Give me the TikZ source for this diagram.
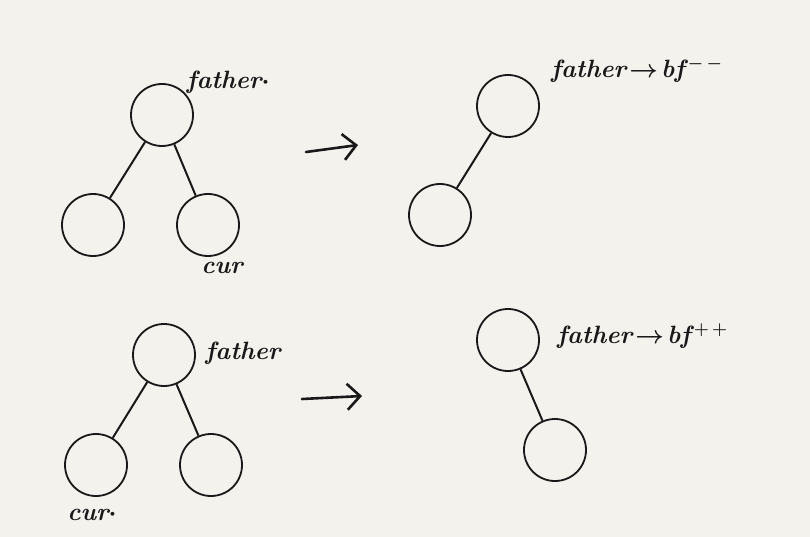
\documentclass[tikz,border=0pt]{standalone}
\usetikzlibrary{arrows.meta}
\definecolor{paper}{RGB}{243,242,237}
\definecolor{ink}{RGB}{25,25,25}
\begin{document}
\begin{tikzpicture}[x=1pt,y=-1pt,
  nd/.style={circle,draw=ink,line width=1.8pt,minimum size=62pt,inner sep=0pt},
  edge/.style={draw=ink,line width=2pt},
  lbl/.style={text=ink,font=\fontsize{25}{28}\selectfont\bfseries\itshape\mathversion{bold},inner sep=0pt},
  bigarrow/.style={draw=ink,line width=2.6pt,line cap=round,-{Straight Barb[length=13pt,width=26pt,line width=2.6pt]}}]
\fill[paper] (0,0) rectangle (810,537);
\useasboundingbox (0,0) rectangle (810,537);
% top left
\node[nd] (f1) at (162,115) {};
\node[nd] (l1) at (93,225) {};
\node[nd] (r1) at (208,225) {};
\draw[edge] (f1) -- (l1);
\draw[edge] (f1) -- (r1);
\node[lbl] (t1) at (228,82) {father$\cdot$};
\node[lbl] (c1) at (222,268) {cur};
% arrow top
\coordinate (a1s) at (306,152);
\coordinate (a1e) at (358,145);
\draw[bigarrow] (a1s) -- (a1e);
% top right
\node[nd] (f2) at (508,106) {};
\node[nd] (l2) at (440,215) {};
\draw[edge] (f2) -- (l2);
\node[lbl,anchor=west] (t2) at (551,70) {father${}\!\to\!{}$bf$^{\,-\,-}$};
% bottom left
\node[nd] (f3) at (164,355) {};
\node[nd] (l3) at (96,465) {};
\node[nd] (r3) at (211,465) {};
\draw[edge] (f3) -- (l3);
\draw[edge] (f3) -- (r3);
\node[lbl] (t3) at (243,353) {father};
\node[lbl] (c3) at (92,515) {cur$\cdot$};
% arrow bottom
\coordinate (a2s) at (302,399);
\coordinate (a2e) at (362,396);
\draw[bigarrow] (a2s) -- (a2e);
% bottom right
\node[nd] (f4) at (508,340) {};
\node[nd] (r4) at (555,450) {};
\draw[edge] (f4) -- (r4);
\node[lbl,anchor=west] (t4) at (557,336) {father${}\!\to\!{}$bf$^{\,+\,+}$};
\end{tikzpicture}
\end{document}
